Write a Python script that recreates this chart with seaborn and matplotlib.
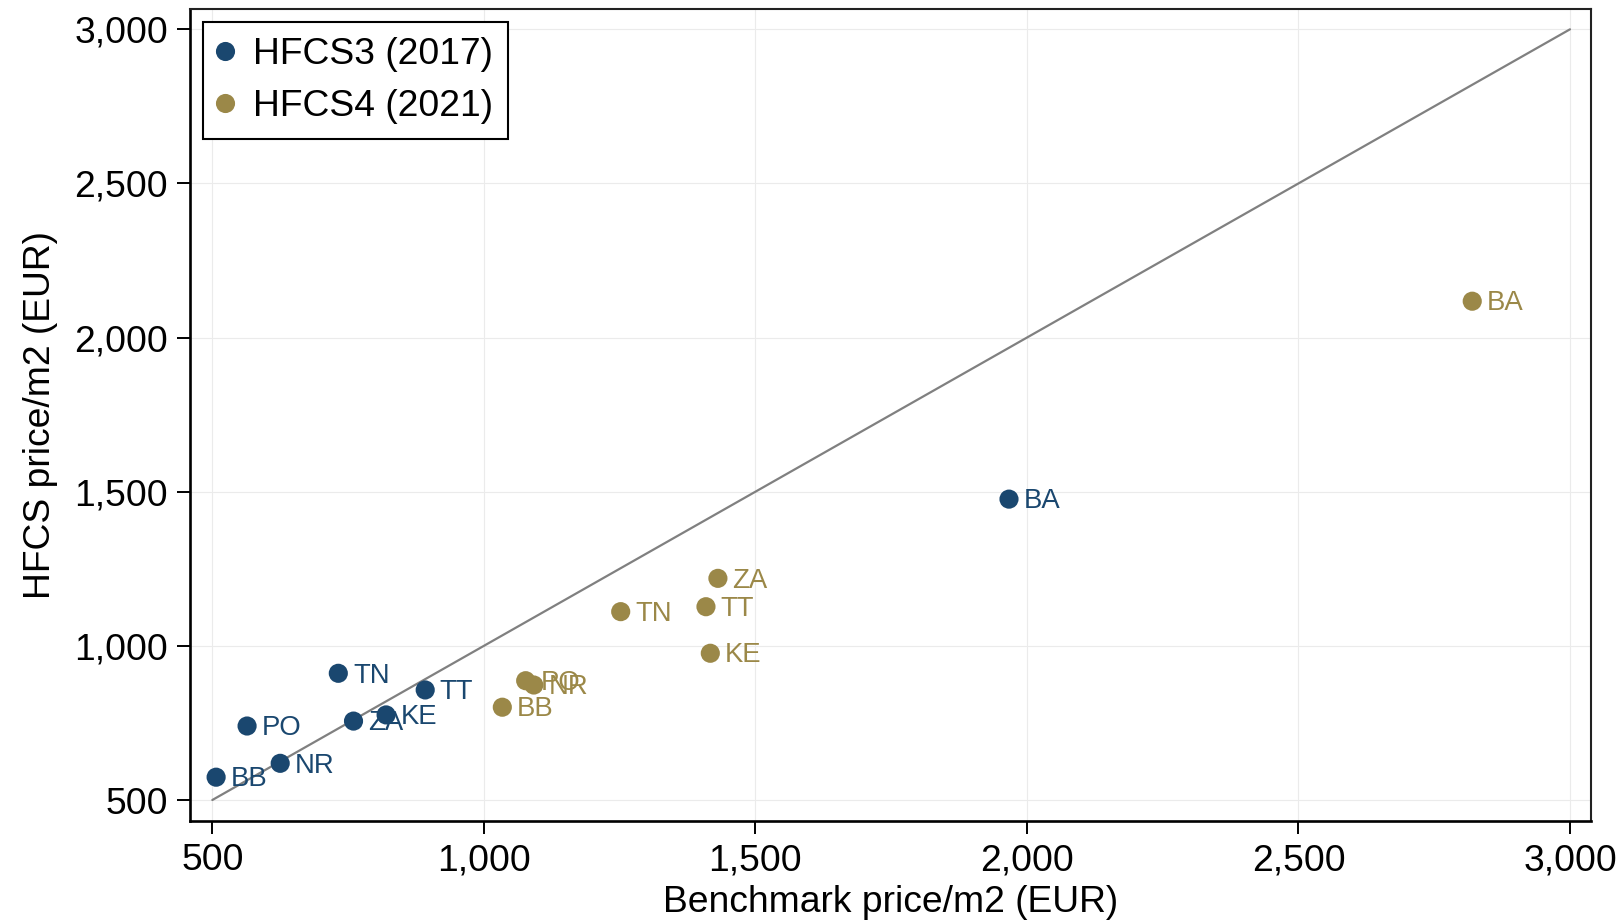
import numpy as np
import pandas as pd
import matplotlib
matplotlib.use("Agg")
import matplotlib.pyplot as plt
import seaborn as sns

# ---- data ----
countries = ["BB", "NR", "PO", "ZA", "KE", "TT", "TN", "BA"]
bench_2017 = [507, 625, 564, 760, 820, 892, 732, 1967]
hfcs_2017 = [574, 619, 740, 756, 776, 857, 911, 1476]
bench_2021 = [1034, 1092, 1077, 1431, 1417, 1409, 1252, 2820]
hfcs_2021 = [801, 873, 887, 1219, 976, 1127, 1111, 2118]
wave_labels = ["HFCS3 (2017)", "HFCS4 (2021)"]
ticks = [500, 1000, 1500, 2000, 2500, 3000]

df = pd.concat([
    pd.DataFrame({"country": countries, "bench": bench_2017, "hfcs": hfcs_2017, "wave": wave_labels[0]}),
    pd.DataFrame({"country": countries, "bench": bench_2021, "hfcs": hfcs_2021, "wave": wave_labels[1]}),
], ignore_index=True)

colors = {wave_labels[0]: "#1a476f", wave_labels[1]: "#9b8848"}

sns.set_style("white")
plt.rcParams["font.family"] = ["Liberation Sans", "DejaVu Sans"]
plt.rcParams["text.color"] = "black"
plt.rcParams["axes.labelcolor"] = "black"
plt.rcParams["xtick.color"] = "black"
plt.rcParams["ytick.color"] = "black"

fig = plt.figure(figsize=(16.21, 9.23), dpi=100)
ax = fig.add_axes([190 / 1621, 1 - 821 / 923, (1591 - 190) / 1621, (821 - 9.3) / 923])

ax.set_xlim(458.9, 3038.7)
ax.set_ylim(431.9, 3064.9)
ax.set_xticks(ticks)
ax.set_yticks(ticks)
fmt = matplotlib.ticker.FuncFormatter(lambda v, p: f"{int(v):,}")
ax.xaxis.set_major_formatter(fmt)
ax.yaxis.set_major_formatter(fmt)
ax.grid(True, color="#ebebeb", linewidth=0.8, zorder=0)
ax.set_axisbelow(True)

ax.plot([ticks[0], ticks[-1]], [ticks[0], ticks[-1]], color="#808080", linewidth=1.6, zorder=2)

sns.scatterplot(data=df, x="bench", y="hfcs", hue="wave", palette=colors,
                s=190, linewidth=0, ax=ax, zorder=3, legend=True)

for _, r in df.iterrows():
    ax.annotate(r["country"], (r["bench"], r["hfcs"]), xytext=(10.5, -1.6),
                textcoords="offset points", ha="left", va="center",
                fontsize=19.8, color=colors[r["wave"]], zorder=4)

for side in ["left", "bottom"]:
    ax.spines[side].set_linewidth(1.9)
    ax.spines[side].set_color("black")
for side in ["top", "right"]:
    ax.spines[side].set_linewidth(1.5)
    ax.spines[side].set_color("#222222")
    ax.spines[side].set_visible(True)

ax.tick_params(axis="both", which="major", direction="out", length=9.4, width=1.4,
               color="black", labelcolor="black", labelsize=26.8, pad=6.5,
               bottom=True, left=True)

ax.set_xlabel("Benchmark price/m2 (EUR)", fontsize=26.8, color="black")
ax.set_ylabel("HFCS price/m2 (EUR)", fontsize=26.8, color="black")
ax.xaxis.label.set_va("center")
ax.yaxis.label.set_va("center")
ax.xaxis.set_label_coords(0.5, -(902.5 - 821) / 811.7)
ax.yaxis.set_label_coords((41 - 190) / 1401, 0.5)

leg = ax.legend(loc="upper left", bbox_to_anchor=(12.5 / 1401, 1 - 13 / 811.7),
                borderaxespad=0, fontsize=26.8, frameon=True, fancybox=False,
                edgecolor="black", framealpha=1, markerscale=1.0,
                handletextpad=0.55, labelspacing=0.45, borderpad=0.4,
                handlelength=0.4, title=None)
leg.get_frame().set_linewidth(1.5)
for t in leg.get_texts():
    t.set_color("black")

fig.savefig("out.png", dpi=100)
